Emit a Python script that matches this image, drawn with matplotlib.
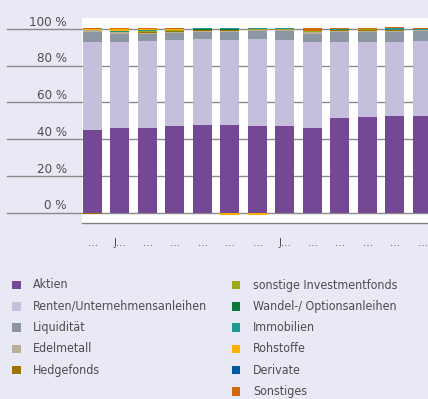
import numpy as np
import matplotlib
matplotlib.use("Agg")
import matplotlib.pyplot as plt
from matplotlib.patches import Rectangle
from matplotlib.transforms import blended_transform_factory

plt.rcParams["font.family"] = ["DejaVu Sans"]
plt.rcParams["font.stretch"] = "condensed"

BG = "#E9E8F5"
TEXT = "#4d4d4d"
GRID = "#8a8a8a"

# thirteen reporting dates, labels truncated in the layout
dates = ["…", "J…", "…", "…", "…", "…", "…", "J…", "…", "…", "…", "…", "…"]

# asset allocation in percent of fund volume
aktien = [45.0, 46.1, 46.1, 47.2, 47.7, 47.7, 47.4, 47.2, 46.1, 51.6, 52.1, 52.6, 52.6]
renten = [47.9, 46.7, 47.4, 46.8, 46.9, 46.3, 47.2, 46.8, 46.8, 41.3, 40.8, 40.3, 40.9]
liquiditaet = [5.5, 4.6, 3.9, 3.8, 3.9, 4.4, 4.1, 4.9, 4.5, 5.6, 5.6, 5.6, 5.2]
edelmetall = [0.9, 0.8, 0.7, 0.7, 0.5, 0.6, 0.6, 0.6, 0.8, 0.5, 0.6, 0.6, 0.5]
hedgefonds = [-0.5, -0.4, 0.4, 0.4, 0.3, 0.3, 0.4, -0.4, 0.3, 0.3, 0.2, 0.3, 0.2]
sonst_invest = [0.0, 0.4, 0.4, 0.3, 0.2, 0.2, 0.3, 0.3, 0.2, 0.2, 0.5, 0.2, 0.2]
wandel = [0.0, 0.0, 0.0, 0.0, 0.4, 0.4, 0.1, 0.1, 0.0, 0.0, 0.0, 0.1, 0.0]
immobilien = [0.0, 0.4, 0.6, 0.5, 0.5, 0.6, 0.5, 0.5, 0.3, 0.5, 0.4, 0.9, 0.4]
rohstoffe = [0.6, 0.8, 0.5, 0.4, -0.2, -1.2, -1.2, 0.2, -0.3, -0.2, -0.2, -0.2, -0.2]
derivate = [0.0] * 13
sonstiges = [0.5, 0.6, 0.3, 0.2, 0.4, 0.3, 0.2, 0.2, 1.3, 0.4, 0.1, 0.3, 0.3]

series = [
    ("Aktien", aktien, "#744894"),
    ("Renten/Unternehmensanleihen", renten, "#C5BEDC"),
    ("Liquidität", liquiditaet, "#8D96A3"),
    ("Edelmetall", edelmetall, "#BAAF96"),
    ("Hedgefonds", hedgefonds, "#9E7400"),
    ("sonstige Investmentfonds", sonst_invest, "#9CAA1C"),
    ("Wandel-/ Optionsanleihen", wandel, "#0A7A3C"),
    ("Immobilien", immobilien, "#1F9690"),
    ("Rohstoffe", rohstoffe, "#F9B000"),
    ("Derivate", derivate, "#0058A3"),
    ("Sonstiges", sonstiges, "#D2690A"),
]

fig = plt.figure(figsize=(4.28, 3.99), dpi=100, facecolor=BG)
W, H = 428, 399
ax = fig.add_axes([82 / W, 1 - 223 / H, 358 / W, 205 / H])
ax.set_facecolor("white")

x = np.arange(len(dates))
pos_base = np.zeros(len(dates))
neg_base = np.zeros(len(dates))
for name, vals, color in series:
    v = np.array(vals, dtype=float)
    bottom = np.where(v >= 0, pos_base, neg_base)
    ax.bar(x, v, width=0.69, bottom=bottom, color=color, linewidth=0, zorder=3)
    pos_base += np.clip(v, 0, None)
    neg_base += np.clip(v, None, 0)

ax.set_xlim(-0.38, 12.64)
ax.set_ylim(-5.6, 106)

# horizontal grid, reaching out into the margin next to the labels
trans = blended_transform_factory(ax.transAxes, ax.transData)
for v in range(0, 101, 20):
    ax.axhline(v, xmin=-0.21, xmax=1, color=GRID, linewidth=1.0, clip_on=False, zorder=1)
    ax.text(-0.042, v + 1.8, f"{v} %", transform=trans, ha="right", va="baseline",
            fontsize=9.5, color=TEXT)

for side in ("top", "left", "right"):
    ax.spines[side].set_visible(False)
ax.spines["bottom"].set_color("#808080")
ax.spines["bottom"].set_linewidth(1.0)
ax.set_yticks([])
ax.set_xticks(x)
ax.set_xticklabels(dates, fontsize=8, color=TEXT)
ax.tick_params(axis="x", length=0, pad=11)

# legend in two columns below the chart
for i, (name, vals, color) in enumerate(series):
    col, row = (0, i) if i < 5 else (1, i - 5)
    sx = (12 if col == 0 else 232) / W
    ty = 1 - (285 + row * 21.3) / H
    fig.add_artist(Rectangle((sx, ty - 4.2 / H), 8.5 / W, 8.5 / H,
                             transform=fig.transFigure, color=color, linewidth=0))
    fig.text(sx + 21 / W, ty, name, ha="left", va="center", fontsize=8.9, color=TEXT)

fig.savefig("out.png", dpi=100, facecolor=BG)
